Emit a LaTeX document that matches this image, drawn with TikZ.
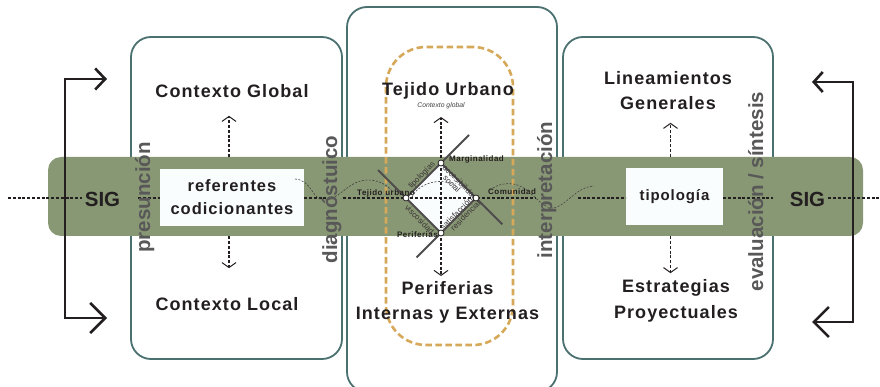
\documentclass[tikz,border=0pt]{standalone}
\usepackage{fontspec}
\setmainfont{Liberation Sans}
\newfontfamily\trackfont[LetterSpace=6]{Liberation Sans}
\usetikzlibrary{arrows.meta,positioning,calc}
\definecolor{bandgreen}{RGB}{137,152,116}
\definecolor{panelteal}{RGB}{74,112,112}
\definecolor{hullochre}{RGB}{214,169,90}
\definecolor{inkdark}{RGB}{35,31,32}
\definecolor{stagegray}{RGB}{88,88,88}
\definecolor{cardwhite}{RGB}{250,253,253}
\tikzstyle{panel}=[draw=panelteal,line width=1.8pt,fill=white,rounded corners=20pt]
\tikzstyle{band}=[fill=bandgreen,rounded corners=13pt,inner sep=0pt]
\tikzstyle{hull}=[draw=hullochre,line width=2.6pt,dash pattern=on 6.5pt off 3.5pt,rounded corners=40pt,inner sep=0pt]
\tikzstyle{heading}=[font=\trackfont\bfseries\fontsize{18}{22}\selectfont,text=inkdark,inner sep=0pt]
\tikzstyle{card}=[fill=cardwhite,inner sep=0pt,align=center,text=inkdark]
\tikzstyle{sig}=[font=\bfseries\fontsize{20.5}{24}\selectfont,text=inkdark,inner sep=3pt]
\tikzstyle{stage}=[font=\bfseries\fontsize{20.5}{24}\selectfont,text=stagegray,rotate=90,anchor=base,inner sep=0pt]
\tikzstyle{flow}=[draw=inkdark,line width=1.5pt,dash pattern=on 3pt off 1.8pt]
\tikzstyle{probe}=[flow,line width=1.3pt,-{Straight Barb[length=5pt,width=14pt,line width=1pt]}]
\tikzstyle{loopback}=[draw=inkdark,line width=2.6pt]
\tikzstyle{wave}=[draw=inkdark!85,line width=0.6pt,dash pattern=on 2pt off 1.5pt]
\tikzstyle{spoke}=[draw=inkdark!80,line width=1.8pt]
\tikzstyle{vertex}=[circle,draw=inkdark,fill=white,line width=0.8pt,inner sep=0pt,minimum size=6pt]
\tikzstyle{factor}=[font=\trackfont\bfseries\fontsize{8}{9}\selectfont,text=inkdark,inner sep=0pt]
\tikzstyle{edgetag}=[font=\fontsize{8}{8}\selectfont,text=inkdark!90,inner sep=0.8pt,sloped]

\begin{document}
\begin{tikzpicture}[x=1pt,y=-1pt]
    \useasboundingbox (0,0) rectangle (880,387);

    % panels and band
    \node[panel,minimum width=211pt,minimum height=322pt] (panelL) at (236.5,198) {};
    \node[panel,minimum width=210pt,minimum height=385pt] (panelC) at (452,199.5) {};
    \node[panel,minimum width=210pt,minimum height=322pt] (panelR) at (668,198) {};
    \node[band,minimum width=815pt,minimum height=79pt] (band) at (455.5,196.5) {};
    \node[hull,minimum width=127pt,minimum height=298pt] (hull) at (449.5,196) {};

    % headings
    \node[heading,anchor=base] (glob) at (232,98) {Contexto Global};
    \node[heading,anchor=base] (local) at (227,310) {Contexto Local};
    \node[heading,anchor=base] (tejido) at (448,96) {Tejido Urbano};
    \node[anchor=base,inner sep=0pt,text=inkdark!85,font=\itshape\fontsize{6.8}{8}\selectfont] (ctxG) at (441,108) {Contexto global};
    \node[heading,anchor=base] (perifA) at (447.5,294) {Periferias};
    \node[heading,anchor=base] (perifB) at ([yshift=-25pt]perifA.base) {Internas y Externas};
    \node[heading,anchor=base] (lineA) at (668,85) {Lineamientos};
    \node[heading,anchor=base] (lineB) at ([yshift=-25pt]lineA.base) {Generales};
    \node[heading,anchor=base] (estrA) at (676,292) {Estrategias};
    \node[heading,anchor=base] (estrB) at ([yshift=-26pt]estrA.base) {Proyectuales};

    % cards and SIG
    \node[card,minimum width=144pt,minimum height=57pt,font=\trackfont\bfseries\fontsize{16.5}{23}\selectfont] (ref) at (232,197.5) {referentes\\codicionantes};
    \node[card,minimum width=97pt,minimum height=57pt,font=\trackfont\bfseries\fontsize{15}{18}\selectfont] (typ) at (674.5,196.5) {tipología};
    \node[sig] (sigL) at (102.5,199.5) {SIG};
    \node[sig] (sigR) at (807.5,199.5) {SIG};

    % diamond
    \coordinate (dTop) at (441,163);
    \coordinate (dRight) at (476,198);
    \coordinate (dBot) at (441,233);
    \coordinate (dLeft) at (406,198);
    \fill[cardwhite] (dTop) -- (dRight) -- (dBot) -- (dLeft) -- cycle;

    % dashed flows
    \coordinate (feedL) at (8,198);
    \coordinate (feedR) at (880,198);
    \draw[flow] (feedL) -- (sigL.west |- feedL);
    \draw[flow] ([xshift=15pt]sigL.east |- feedL) -- (ref.west |- feedL);
    \draw[flow] (ref.east |- feedL) -- ++(25,0);
    \draw[flow] ([xshift=-63pt]dLeft) -- ([xshift=60pt]dRight);
    \draw[flow] (dTop) -- (dBot);
    \draw[flow] ([xshift=-48pt]typ.west |- feedL) -- (typ.west |- feedL);
    \draw[flow] (typ.east |- feedL) -- ++(50,0);
    \draw[flow] (sigR.east |- feedR) -- (feedR);

    \draw[probe] ($(ref.north |- band.north)+(-3,0)$) -- ++(0,-41);
    \draw[probe] ($(ref.south |- band.south)+(-3,0)$) -- ++(0,32);
    \draw[probe] ($(typ.north |- band.north)+(-4,0)$) -- ++(0,-34);
    \draw[probe] ($(typ.south |- band.south)+(-4,0)$) -- ++(0,37);
    \draw[probe] (dTop) -- ++(0,-46);
    \draw[probe] (dBot) -- ++(0,43);

    % spokes
    \draw[spoke] (dLeft) -- ($(dLeft)!1.8!(dTop)$);
    \draw[spoke] (dTop) -- ($(dTop)!1.75!(dRight)$);
    \draw[spoke] (dRight) -- ($(dRight)!1.7!(dBot)$);
    \draw[spoke] (dBot) -- ($(dBot)!1.8!(dLeft)$);
    \path (dLeft) -- node[edgetag,above,pos=.55] {tipologías} (dTop);
    \path (dTop) -- node[edgetag,pos=.55] {accesibilidad} node[edgetag,below=3pt,pos=.45] {social} (dRight);
    \path (dLeft) -- node[edgetag,below=1.5pt,pos=.5] {viscosidad} (dBot);
    \path (dBot) -- node[edgetag,above=-1pt,pos=.5] {satisfacción} node[edgetag,below=1pt,pos=.6] {residencial} (dRight);

    \node[vertex] (vTop) at (dTop) {};
    \node[vertex] (vRight) at (dRight) {};
    \node[vertex] (vBot) at (dBot) {};
    \node[vertex] (vLeft) at (dLeft) {};
    \node[factor,anchor=base west] (marg) at ([xshift=8pt,yshift=1pt]vTop.center) {Marginalidad};
    \node[factor,anchor=base west] (comun) at ([xshift=12pt,yshift=3pt]vRight.center) {Comunidad};
    \node[factor,anchor=base east] (tejU) at ([xshift=9pt,yshift=2pt]vLeft.center) {Tejido urbano};
    \node[factor,anchor=base east] (perif) at ([xshift=-3pt,yshift=-4pt]vBot.center) {Periferias};

    % waves
    \draw[wave] (295,179) .. controls (312,180) and (312,200) .. (324,200) .. controls (340,200) and (348,180) .. (368,180) .. controls (380,180) and (388,186) .. (393,192);
    \draw[wave] (412,197) .. controls (418,184) and (440,176) .. (456,186);
    \draw[wave] (490,190) .. controls (498,184) and (505,183) .. (513,184) .. controls (530,186) and (540,208) .. (552,208) .. controls (565,208) and (575,187) .. (594,186);

    % stages
    \node[stage] (presun) at (150,197.5) {presunción};
    \node[stage] (diagn) at (337,199.5) {diagnóstuico};
    \node[stage] (interp) at (552,190) {interpretación};
    \node[stage] (evalu) at (763,191.5) {evaluación / síntesis};

    % loop back
    \coordinate (backLa) at (107,79);
    \coordinate (backLb) at (107,318);
    \coordinate (backRa) at (812,82);
    \coordinate (backRb) at (812,322);
    \draw[loopback,{Straight Barb[length=10pt,width=21pt]}-{Straight Barb[length=15pt,width=30pt]}] (backLa) -- ++(-42,0) |- (backLb);
    \draw[loopback,{Straight Barb[length=9pt,width=20pt]}-{Straight Barb[length=15pt,width=30pt]}] (backRa) -- ++(41,0) |- (backRb);
\end{tikzpicture}
\end{document}
